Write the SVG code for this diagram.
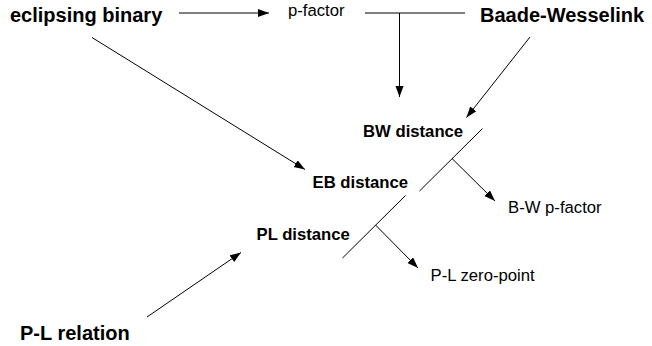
<svg xmlns="http://www.w3.org/2000/svg" width="652" height="346" viewBox="0 0 652 346">
<defs>
<marker id="ah" markerWidth="12" markerHeight="10" refX="11" refY="4" orient="auto" markerUnits="userSpaceOnUse">
<path d="M0,0 L11,4 L0,8 Z" fill="#000"/>
</marker>
<style>
.big{font-family:"Liberation Sans",Arial,sans-serif;font-weight:bold;font-size:20px;fill:#000}
.mid{font-family:"Liberation Sans",Arial,sans-serif;font-weight:bold;font-size:16.7px;fill:#000}
.reg{font-family:"Liberation Sans",Arial,sans-serif;font-size:16.7px;fill:#000}
.ln{stroke:#000;stroke-width:1;fill:none}
.ar{stroke:#000;stroke-width:1;fill:none;marker-end:url(#ah)}
</style>
</defs>
<rect width="652" height="346" fill="#fff"/>
<g id="connectors">
<line class="ar" x1="179" y1="13" x2="269" y2="13"/>
<line class="ln" x1="365" y1="13" x2="465" y2="13"/>
<line class="ar" x1="399.5" y1="13" x2="399.5" y2="97"/>
<line class="ar" x1="530" y1="37" x2="466.5" y2="117.5"/>
<line class="ar" x1="92" y1="37.5" x2="305" y2="169.5"/>
<line class="ln" x1="482.5" y1="128.5" x2="419.5" y2="191"/>
<line class="ar" x1="452" y1="158.5" x2="495" y2="201"/>
<line class="ln" x1="405.5" y1="195.5" x2="342.5" y2="258"/>
<line class="ar" x1="375.5" y1="225" x2="418" y2="268"/>
<line class="ar" x1="147" y1="317" x2="241" y2="252.5"/>
</g>
<g id="eclipsing-binary"><text class="big" x="10" y="22">eclipsing binary</text></g>
<g id="p-factor"><text class="reg" x="288" y="16">p-factor</text></g>
<g id="baade-wesselink"><text class="big" x="480" y="22">Baade-Wesselink</text></g>
<g id="bw-distance"><text class="mid" x="363" y="137">BW distance</text></g>
<g id="eb-distance"><text class="mid" x="312.5" y="188">EB distance</text></g>
<g id="pl-distance"><text class="mid" x="256.5" y="240">PL distance</text></g>
<g id="bw-p-factor"><text class="reg" x="508" y="213">B-W p-factor</text></g>
<g id="pl-zero-point"><text class="reg" x="430.5" y="281">P-L zero-point</text></g>
<g id="pl-relation"><text class="big" x="20" y="340">P-L relation</text></g>
</svg>
